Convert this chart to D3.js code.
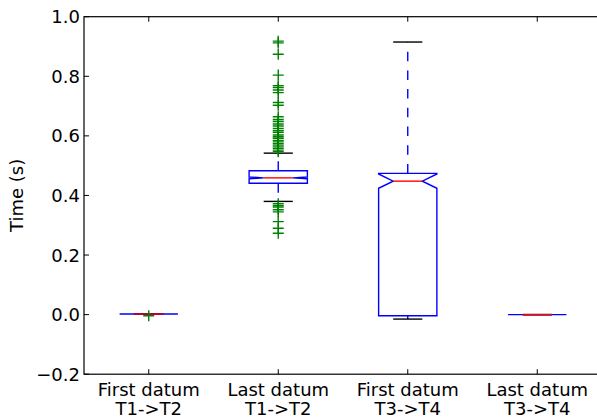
<!DOCTYPE html>
<html>
<head>
<meta charset="utf-8">
<script src="https://cdn.jsdelivr.net/npm/d3@7"></script>
<style>
  body { margin: 0; background: #fff; }
  text { font-family: "DejaVu Sans", sans-serif; fill: #000; }
</style>
</head>
<body>
<svg id="chart" width="597" height="417"></svg>
<script>
// categories (two-line tick labels)
var categories = [
  ["First datum", "T1->T2"],
  ["Last datum", "T1->T2"],
  ["First datum", "T3->T4"],
  ["Last datum", "T3->T4"]
];
var positions = [1, 2, 3, 4];

// box stats
var q1Vals = [0.002, 0.441, -0.004, 0.0];
var medVals = [0.002, 0.459, 0.448, 0.0];
var q3Vals = [0.002, 0.483, 0.474, 0.0];
var notchLoVals = [0.002, 0.456, 0.424, 0.0];
var notchHiVals = [0.002, 0.462, 0.472, 0.0];
var whiskLoVals = [0.002, 0.380, -0.015, 0.0];
var whiskHiVals = [0.002, 0.542, 0.915, 0.0];

// outliers per box
var fliers1 = [-0.004];
var fliers2 = [0.918, 0.912, 0.874, 0.804, 0.768, 0.762, 0.754, 0.745, 0.712, 0.703,
  0.664, 0.655, 0.648, 0.640, 0.633, 0.625, 0.618, 0.612, 0.603, 0.597, 0.592,
  0.585, 0.580, 0.574, 0.569, 0.563, 0.558, 0.552, 0.547,
  0.372, 0.366, 0.361, 0.352, 0.345, 0.312, 0.290, 0.273];
var fliers3 = [];
var fliers4 = [];
var fliersAll = [fliers1, fliers2, fliers3, fliers4];

var yTicks = [-0.2, 0.0, 0.2, 0.4, 0.6, 0.8, 1.0];

var svg = d3.select("#chart");

var plotL = 84, plotR = 602, plotT = 16.7, plotB = 374.2;
var fontSize = 18;

var xScale = d3.scaleLinear().domain([0.5, 4.5]).range([plotL, plotR]);
var yScale = d3.scaleLinear().domain([-0.2, 1.0]).range([plotB, plotT]);

var boxW = 0.45; // in data units
var fmt = function(v) { return d3.format(".1f")(v).replace("-", "\u2212"); };

var g = svg.append("g");

var boxes = positions.map(function(p, i) {
  return {
    pos: p, q1: q1Vals[i], med: medVals[i], q3: q3Vals[i],
    nlo: notchLoVals[i], nhi: notchHiVals[i],
    wlo: whiskLoVals[i], whi: whiskHiVals[i], fliers: fliersAll[i]
  };
});

boxes.forEach(function(b) {
  var xl = xScale(b.pos - boxW / 2), xr = xScale(b.pos + boxW / 2);
  var xnl = xScale(b.pos - boxW / 4), xnr = xScale(b.pos + boxW / 4);
  var xc = xScale(b.pos);

  // whiskers
  g.append("line")
    .attr("x1", xc).attr("x2", xc)
    .attr("y1", yScale(b.q1)).attr("y2", yScale(b.wlo))
    .attr("stroke", "#0000ff").attr("stroke-width", 1.4)
    .attr("stroke-dasharray", "9.5,9.2");
  g.append("line")
    .attr("x1", xc).attr("x2", xc)
    .attr("y1", yScale(b.q3)).attr("y2", yScale(b.whi))
    .attr("stroke", "#0000ff").attr("stroke-width", 1.4)
    .attr("stroke-dasharray", "9.5,9.2");

  // caps
  [b.wlo, b.whi].forEach(function(v) {
    g.append("line")
      .attr("x1", xnl).attr("x2", xnr)
      .attr("y1", yScale(v)).attr("y2", yScale(v))
      .attr("stroke", "#000").attr("stroke-width", 1.4);
  });

  // notched box
  var pts = [
    [xl, yScale(b.q1)], [xl, yScale(b.nlo)], [xnl, yScale(b.med)], [xl, yScale(b.nhi)],
    [xl, yScale(b.q3)], [xr, yScale(b.q3)], [xr, yScale(b.nhi)], [xnr, yScale(b.med)],
    [xr, yScale(b.nlo)], [xr, yScale(b.q1)]
  ];
  g.append("path")
    .attr("d", d3.line()(pts) + "Z")
    .attr("fill", "none")
    .attr("stroke", "#0000ff").attr("stroke-width", 1.4)
    .attr("stroke-linejoin", "miter");

  // median
  g.append("line")
    .attr("x1", xnl).attr("x2", xnr)
    .attr("y1", yScale(b.med)).attr("y2", yScale(b.med))
    .attr("stroke", "#ff0000").attr("stroke-width", 1.4);

  // fliers
  g.selectAll(null)
    .data(b.fliers)
    .enter()
    .append("path")
    .attr("d", function(d) {
      var cy = yScale(d);
      return "M" + (xc - 5.5) + "," + cy + "H" + (xc + 5.5) +
        "M" + xc + "," + (cy - 5.5) + "V" + (cy + 5.5);
    })
    .attr("stroke", "#008000").attr("stroke-width", 1.4)
    .attr("fill", "none");
});

// frame
svg.append("rect")
  .attr("x", plotL).attr("y", plotT)
  .attr("width", plotR - plotL).attr("height", plotB - plotT)
  .attr("fill", "none").attr("stroke", "#000").attr("stroke-width", 1.2);

// y ticks (inward, both sides)
yTicks.forEach(function(t) {
  var y = yScale(t);
  svg.append("line").attr("x1", plotL).attr("x2", plotL + 5)
    .attr("y1", y).attr("y2", y).attr("stroke", "#000").attr("stroke-width", 1);
  svg.append("line").attr("x1", plotR - 5).attr("x2", plotR)
    .attr("y1", y).attr("y2", y).attr("stroke", "#000").attr("stroke-width", 1);
  svg.append("text")
    .attr("x", plotL - 4).attr("y", y).attr("dy", "0.36em")
    .attr("text-anchor", "end").attr("font-size", fontSize)
    .text(fmt(t));
});

// x ticks (inward, top and bottom)
positions.forEach(function(p, i) {
  var x = xScale(p);
  svg.append("line").attr("x1", x).attr("x2", x)
    .attr("y1", plotB).attr("y2", plotB - 5).attr("stroke", "#000").attr("stroke-width", 1);
  svg.append("line").attr("x1", x).attr("x2", x)
    .attr("y1", plotT).attr("y2", plotT + 5).attr("stroke", "#000").attr("stroke-width", 1);
  svg.append("text")
    .attr("x", x).attr("y", 396)
    .attr("text-anchor", "middle").attr("font-size", fontSize)
    .text(categories[i][0]);
  svg.append("text")
    .attr("x", x).attr("y", 414.5)
    .attr("text-anchor", "middle").attr("font-size", fontSize)
    .text(categories[i][1]);
});

// y label
svg.append("text")
  .attr("transform", "translate(23," + ((plotT + plotB) / 2) + ") rotate(-90)")
  .attr("text-anchor", "middle").attr("font-size", fontSize)
  .text("Time (s)");
</script>
</body>
</html>
